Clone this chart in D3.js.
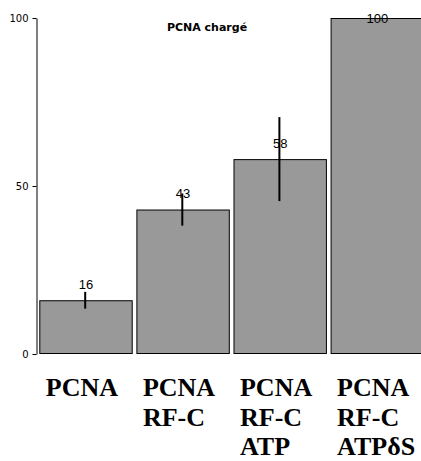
<!DOCTYPE html>
<html>
<head>
<meta charset="utf-8">
<script src="https://cdn.jsdelivr.net/npm/d3@7"></script>
<style>
  html, body { margin: 0; padding: 0; background: #fff; }
  svg { display: block; }
</style>
</head>
<body>
<script>
// PCNA loading by RF-C: percentage of PCNA loaded under each condition
const categories = ["PCNA", "PCNA RF-C", "PCNA RF-C ATP", "PCNA RF-C ATPδS"];
const categoryLines = [["PCNA"], ["PCNA", "RF-C"], ["PCNA", "RF-C", "ATP"], ["PCNA", "RF-C", "ATPδS"]];
const values = [16, 43, 58, 100];
const errors = [2.5, 4.8, 12.5, 0];
const yTicks = [0, 50, 100];
const title = "PCNA chargé";

const W = 421, H = 461;
const svg = d3.select("body").append("svg")
  .attr("width", W).attr("height", H);

const y = d3.scaleLinear().domain([0, 100]).range([354, 18]);
const x = d3.scaleBand().domain(categories)
  .range([39.3, 424]).paddingInner(0.038).paddingOuter(0);

// Y axis: line with short ticks on the left
const axisX = 36.5;
const yAxis = d3.axisLeft(y).tickValues(yTicks).tickSize(4).tickSizeOuter(0).tickPadding(4);
const gy = svg.append("g").attr("transform", `translate(${axisX},0)`).call(yAxis);
gy.select(".domain").attr("stroke", "#000").attr("stroke-width", 1);
gy.selectAll(".tick line").attr("stroke", "#000");
gy.selectAll(".tick text")
  .attr("font-family", "'DejaVu Sans', sans-serif")
  .attr("font-size", 10)
  .attr("fill", "#000");

// Bars
svg.append("g").selectAll("rect").data(values).join("rect")
  .attr("x", (d, i) => x(categories[i]) + 0.5)
  .attr("y", d => y(d) + 0.5)
  .attr("width", x.bandwidth() - 1)
  .attr("height", d => y(0) - y(d) - 1)
  .attr("fill", "#999999")
  .attr("stroke", "#000")
  .attr("stroke-width", 1);

// Value labels above each bar, kept inside the plot top
svg.append("g").selectAll("text").data(values).join("text")
  .attr("x", (d, i) => x(categories[i]) + x.bandwidth() / 2)
  .attr("y", d => Math.max(y(d) - 11.5, y(100) + 4.7))
  .attr("text-anchor", "middle")
  .attr("font-family", "'Liberation Sans', Arial, sans-serif")
  .attr("font-size", 13)
  .attr("fill", "#000")
  .text(d => d);

// Error bars
svg.append("g").selectAll("line").data(values).join("line")
  .filter((d, i) => errors[i] > 0)
  .attr("x1", (d, i) => x(categories[i]) + x.bandwidth() / 2 - 0.8)
  .attr("x2", (d, i) => x(categories[i]) + x.bandwidth() / 2 - 0.8)
  .attr("y1", (d, i) => y(d + errors[i]))
  .attr("y2", (d, i) => y(d - errors[i]))
  .attr("stroke", "#000")
  .attr("stroke-width", 2);

// Title
svg.append("text")
  .attr("x", 207).attr("y", 30.5)
  .attr("text-anchor", "middle")
  .attr("font-family", "'DejaVu Sans', sans-serif")
  .attr("font-weight", "bold")
  .attr("font-size", 11)
  .attr("fill", "#000")
  .text(title);

// Category labels, stacked lines under each bar
const cat = svg.append("g").selectAll("text").data(categories).join("text")
  .attr("x", d => x(d) + 6.5)
  .attr("y", 396)
  .attr("font-family", "'Liberation Serif', 'Times New Roman', serif")
  .attr("font-weight", "bold")
  .attr("font-size", 26)
  .attr("fill", "#000");
cat.selectAll("tspan").data((d, i) => categoryLines[i]).join("tspan")
  .attr("x", function () { return this.parentNode.getAttribute("x"); })
  .attr("dy", (d, j) => j === 0 ? 0 : 29.5)
  .text(d => d);
</script>
</body>
</html>
